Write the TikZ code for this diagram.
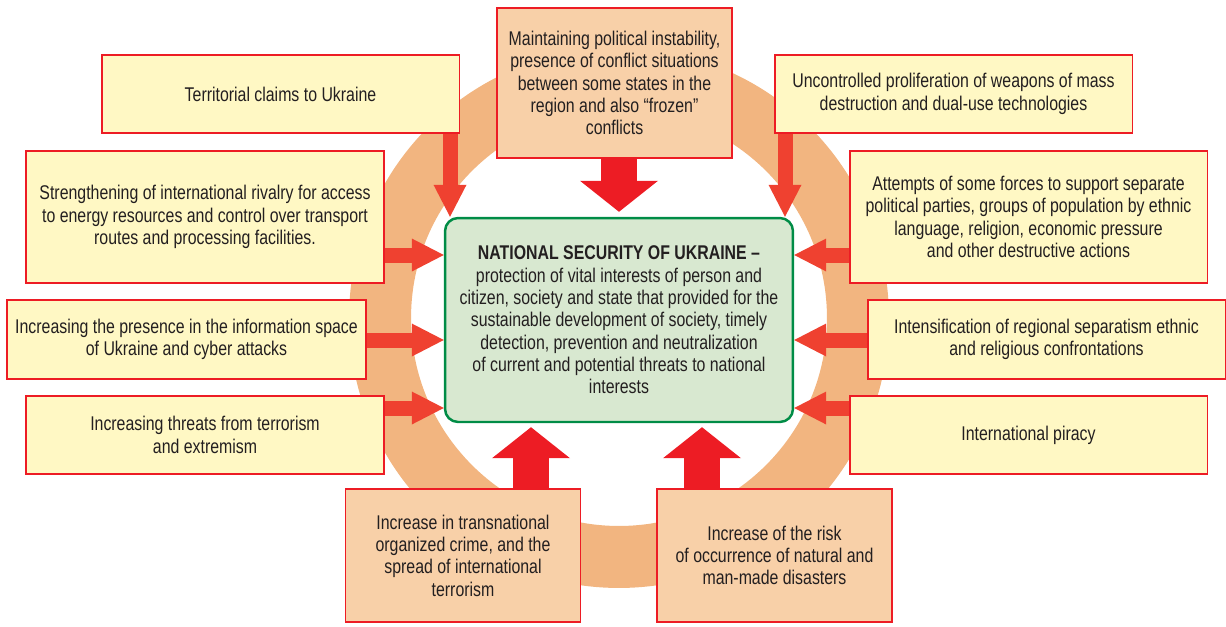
\documentclass[tikz,border=0pt]{standalone}
\usepackage{fontspec}
\setmainfont[FakeStretch=0.8]{Liberation Sans}
\usetikzlibrary{arrows.meta}
\definecolor{boxred}{RGB}{237,28,36}
\definecolor{arrowred}{RGB}{239,65,48}
\definecolor{paleyellow}{RGB}{255,248,196}
\definecolor{peach}{RGB}{248,208,168}
\definecolor{ringorange}{RGB}{242,181,128}
\definecolor{palegreen}{RGB}{216,232,208}
\definecolor{darkgreen}{RGB}{0,140,70}
\definecolor{textgray}{RGB}{35,31,32}

\begin{document}
\begin{tikzpicture}[x=0.02cm,y=-0.02cm,
		font=\fontsize{11.3}{12.7}\selectfont, text=textgray,
		threat/.style={draw=boxred, line width=1.1pt, align=center, inner sep=0pt},
		ybox/.style={threat, fill=paleyellow, minimum width=7.16cm, minimum height=1.57cm},
		pbox/.style={threat, fill=peach, minimum width=4.7cm, minimum height=2.66cm},
		sidearrow/.style={arrowred, line width=0.3cm, -{Triangle[width=0.66cm,length=0.64cm,line width=0pt]}},
		bigarrow/.style={boxred, line width=0.72cm, -{Triangle[width=1.56cm,length=0.62cm,line width=0pt]}}]
		\useasboundingbox (0,0) rectangle (1226,626);

		% Ring
		\coordinate (ringc) at (619,318);
		\draw[ringorange, line width=1.24cm] (ringc) circle (4.78cm);

		% Centre
		\node[draw=darkgreen, fill=palegreen, line width=1.4pt, rounded corners=0.26cm,
			minimum width=6.96cm, minimum height=4.08cm, align=center, inner sep=0pt]
			(cen) at (619,320) {\textbf{NATIONAL SECURITY OF UKRAINE –}\\
			protection of vital interests of person and\\
			citizen, society and state that provided for the\\
			sustainable development of society, timely\\
			detection, prevention and neutralization\\
			of current and potential threats to national\\
			interests};

		% Threats
		\node[pbox, minimum height=3.0cm] (maint) at (614.5,83) {Maintaining political instability,\\
			presence of conflict situations\\ between some states in the\\
			region and also “frozen”\\ conflicts};
		\node[ybox] (terr) at (280.5,94) {Territorial claims to Ukraine};
		\node[ybox] (uncon) at (953.5,94) {Uncontrolled proliferation of weapons of mass\\
			destruction and dual-use technologies};
		\node[ybox, minimum height=2.64cm] (strength) at (205,217) {Strengthening of international rivalry for access\\
			to energy resources and control over transport\\ routes and processing facilities.};
		\node[ybox, minimum height=2.64cm] (attempts) at (1028.5,217) {Attempts of some forces to support separate\\
			political parties, groups of population by ethnic\\
			language, religion, economic pressure\\ and other destructive actions};
		\node[ybox, minimum width=7.18cm] (presence) at (186.5,339.5) {Increasing the presence in the information space\\
			of Ukraine and cyber attacks};
		\node[ybox] (intens) at (1046.5,339.5) {Intensification of regional separatism ethnic\\
			and religious confrontations};
		\node[ybox] (threats) at (205,435) {Increasing threats from terrorism\\ and extremism};
		\node[ybox] (piracy) at (1028.5,435) {International piracy};
		\node[pbox] (crime) at (463,555.5) {Increase in transnational\\ organized crime, and the\\
			spread of international\\ terrorism};
		\node[pbox] (disaster) at (774.5,555.5) {Increase of the risk\\
			of occurrence of natural and\\ man-made disasters};

		% Arrows
		\draw[bigarrow, shorten >=0.1cm] (maint.south -| cen.north) -- (cen.north);
		\draw[sidearrow] (terr.south -| 450,0) -- (cen.north -| 450,0);
		\draw[sidearrow] (uncon.south -| 785,0) -- (cen.north -| 785,0);
		\draw[sidearrow] (strength.east |- 0,255) -- (cen.west |- 0,255);
		\draw[sidearrow] (presence.east |- 0,340) -- (cen.west |- 0,340);
		\draw[sidearrow] (threats.east |- 0,408) -- (cen.west |- 0,408);
		\draw[sidearrow] (attempts.west |- 0,255) -- (cen.east |- 0,255);
		\draw[sidearrow] (intens.west |- 0,340) -- (cen.east |- 0,340);
		\draw[sidearrow] (piracy.west |- 0,408) -- (cen.east |- 0,408);
		\draw[bigarrow, shorten >=0.08cm] (crime.north -| 531,0) -- (cen.south -| 531,0);
		\draw[bigarrow, shorten >=0.08cm] (disaster.north -| 702,0) -- (cen.south -| 702,0);
	\end{tikzpicture}
\end{document}
